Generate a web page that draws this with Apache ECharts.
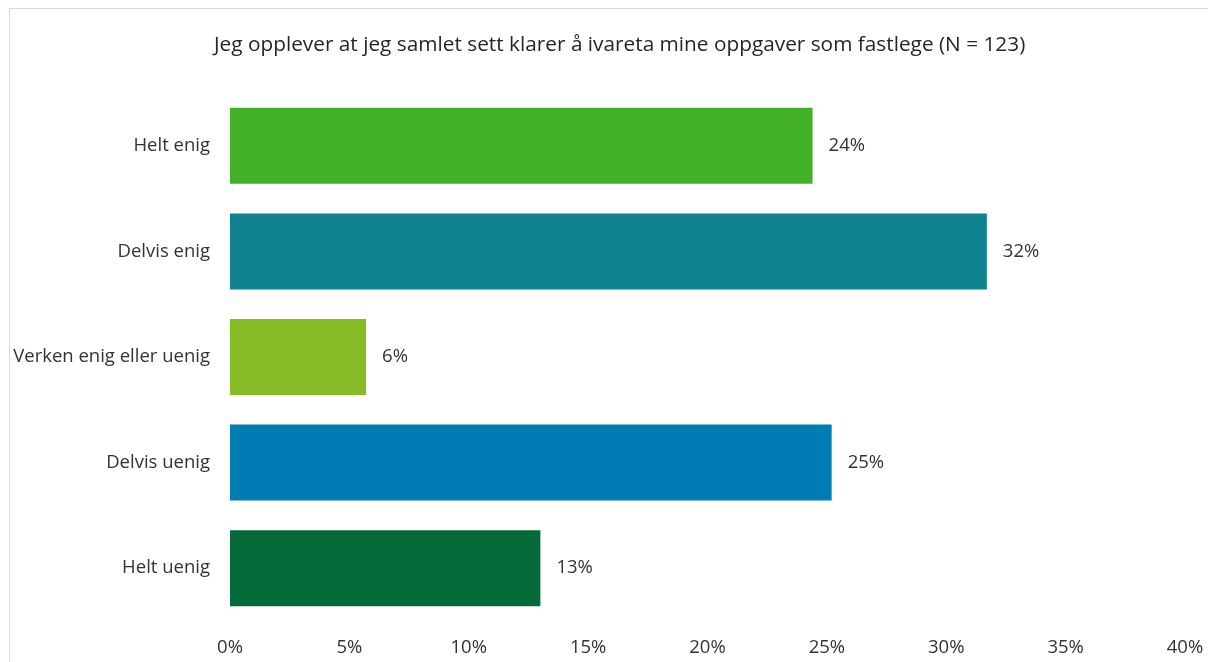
<!DOCTYPE html>
<html>
<head>
<meta charset="utf-8">
<script src="https://cdn.jsdelivr.net/npm/echarts@6/dist/echarts.min.js"></script>
<style>
html,body{margin:0;padding:0;background:#fff;}
#frame{position:absolute;left:9px;top:8px;width:1300px;height:800px;border:1px solid #d9d9d9;box-sizing:border-box;}
#chart{position:absolute;left:0;top:0;width:1208px;height:662px;}
</style>
</head>
<body>
<div id="frame"></div>
<div id="chart"></div>
<script>
const categories = ["Helt enig", "Delvis enig", "Verken enig eller uenig", "Delvis uenig", "Helt uenig"];
const values = [24.4, 31.7, 5.7, 25.2, 13.0];
const colors = ["#43B02A", "#0E838F", "#86BC25", "#007CB4", "#046A38"];
const titleText = "Jeg opplever at jeg samlet sett klarer å ivareta mine oppgaver som fastlege (N = 123)";

const chart = echarts.init(document.getElementById('chart'));
const font = "'Open Sans', 'Noto Sans', sans-serif";
chart.setOption({
  backgroundColor: 'transparent',
  animation: false,
  title: {
    text: titleText,
    left: 209,
    top: 30,
    textStyle: { fontFamily: font, fontSize: 20.8, fontWeight: 'normal', color: '#262626' }
  },
  grid: { left: 230, right: 23, top: 93, bottom: 41, containLabel: false },
  xAxis: {
    type: 'value',
    min: 0, max: 40, interval: 5,
    axisLine: { show: false },
    axisTick: { show: false },
    splitLine: { show: false },
    axisLabel: {
      formatter: v => v + '%',
      margin: 17,
      fontFamily: font, fontSize: 18.5, color: '#333333'
    }
  },
  yAxis: {
    type: 'category',
    inverse: true,
    data: categories,
    axisLine: { show: false },
    axisTick: { show: false },
    axisLabel: { margin: 20, fontFamily: font, fontSize: 18.5, color: '#333333' }
  },
  series: [{
    type: 'bar',
    data: values.map((v, i) => ({ value: v, itemStyle: { color: colors[i] } })),
    barCategoryGap: '28%',
    label: {
      show: true,
      position: 'right',
      distance: 16,
      formatter: p => Math.round(p.value) + '%',
      fontFamily: font, fontSize: 18.5, color: '#333333'
    }
  }]
});
</script>
</body>
</html>
